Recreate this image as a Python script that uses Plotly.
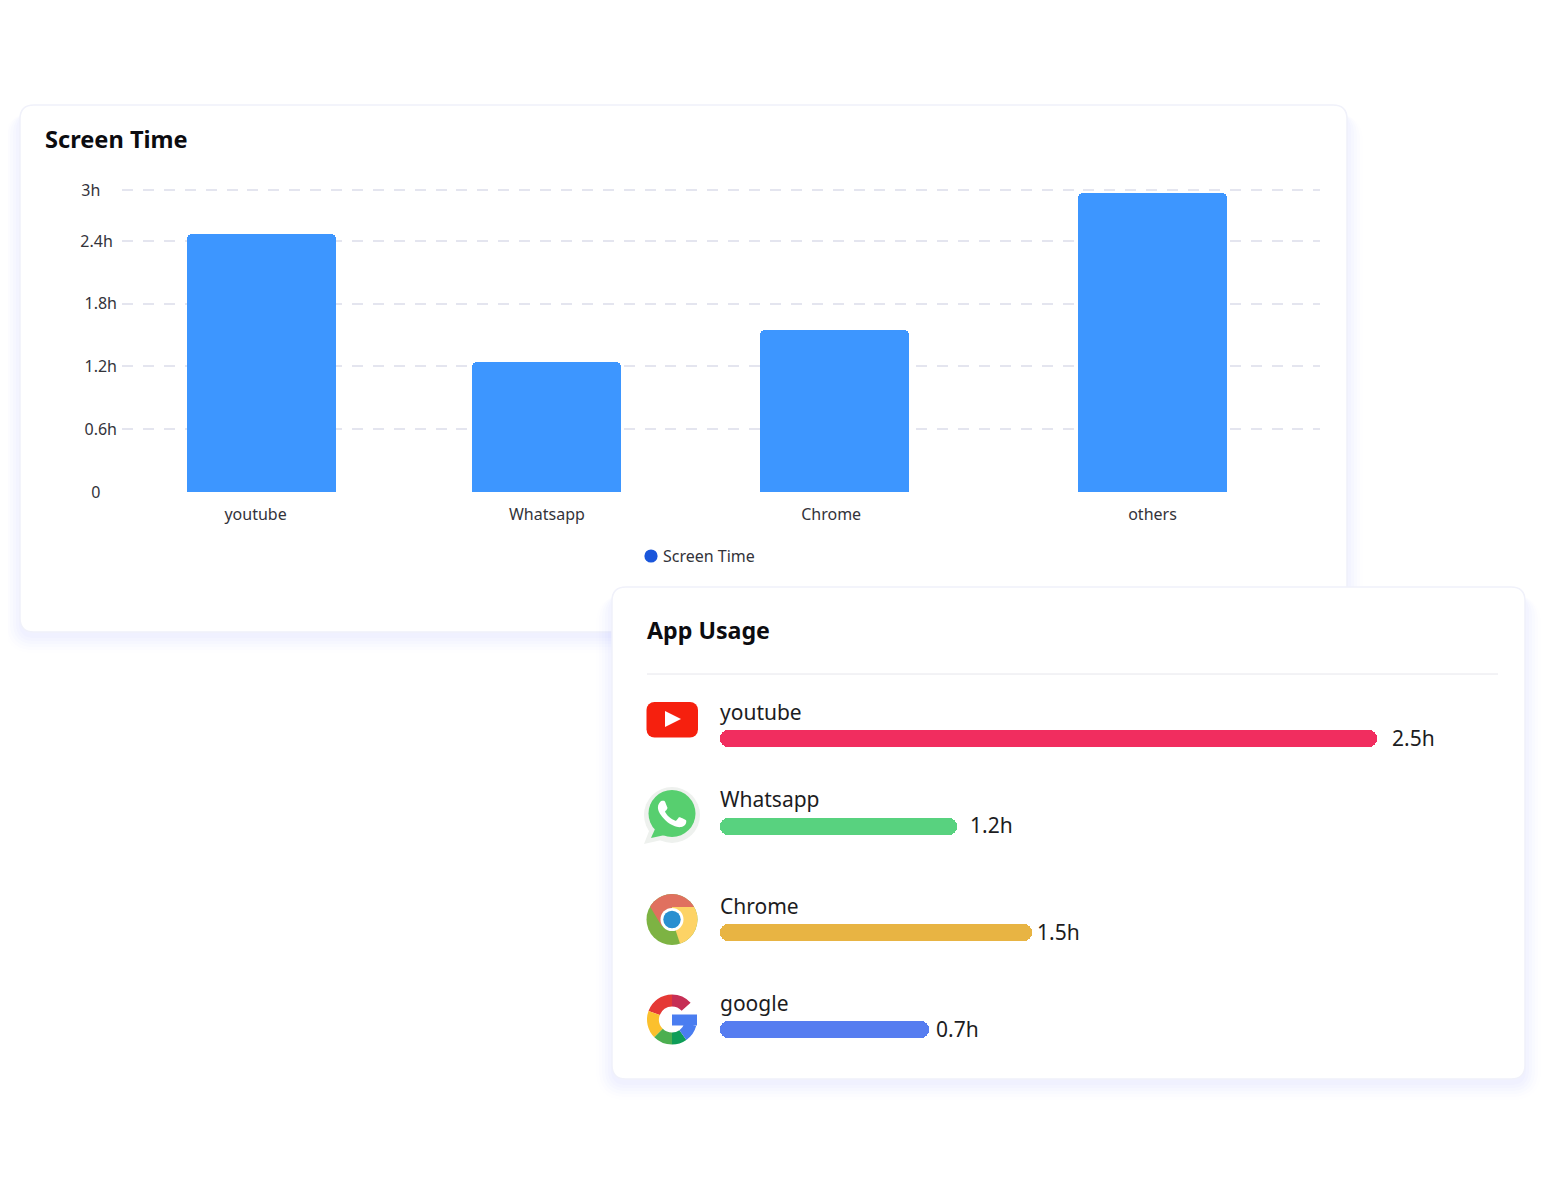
import base64, math
import plotly.graph_objects as go

# ---------- data ----------
apps_chart = ["youtube", "Whatsapp", "Chrome", "others"]
hours_chart = [2.47, 1.24, 1.55, 2.86]
slot_chart = [0.0, 0.9596, 1.9293, 3.0]
label_slot_chart = [-0.02, 0.961, 1.918, 3.0]
y_ticks = [0, 0.6, 1.2, 1.8, 2.4, 2.887]
y_labels = ["0", "0.6h", "1.2h", "1.8h", "2.4h", "3h"]

apps_usage = ["youtube", "Whatsapp", "Chrome", "google"]
usage_labels = ["2.5h", "1.2h", "1.5h", "0.7h"]
usage_length = [100.0, 36.0, 47.5, 31.8]
usage_rows = [0.0, 0.902, 2.0, 3.0]
usage_colors = ["#f12d5f", "#58d27f", "#e8b443", "#567df0"]
label_gap = [13, 11, 3, 5]

PAGE = 8                 # the browser's default body margin
W, H = 1550 - 2 * PAGE, 1200 - 2 * PAGE
FONT = "Noto Sans"
INK = "#33333a"
LEGEND_DOT = "#1a56db"

def px(x): return (x - PAGE) / W
def py(y): return 1 - (y - PAGE) / H

def rrect(x0, y0, x1, y1, r):
    X0, X1, Y0, Y1 = px(x0), px(x1), py(y0), py(y1)
    rx, ry = r / W, r / H
    return (f"M {X0+rx} {Y0} L {X1-rx} {Y0} Q {X1} {Y0} {X1} {Y0-ry} "
            f"L {X1} {Y1+ry} Q {X1} {Y1} {X1-rx} {Y1} L {X0+rx} {Y1} "
            f"Q {X0} {Y1} {X0} {Y1+ry} L {X0} {Y0-ry} Q {X0} {Y0} {X0+rx} {Y0} Z")

def card(x0, y0, x1, y1):
    out = []
    for grow, op in [(16, 0.008), (13, 0.012), (10, 0.016), (7, 0.02), (4, 0.02), (1, 0.02)]:
        out.append(dict(type="path", xref="paper", yref="paper", layer="below",
                        path=rrect(x0 - grow, y0 + 8, x1 + grow, y1 + grow + 5, 14 + grow),
                        fillcolor=f"rgba(90,110,235,{op})", line=dict(width=0)))
    out.append(dict(type="path", xref="paper", yref="paper", layer="below",
                    path=rrect(x0, y0, x1, y1, 14), fillcolor="white",
                    line=dict(color="#f0f1fa", width=1.5)))
    return out

shapes = card(20, 105, 1347, 632) + card(612, 587, 1525, 1079)
shapes.append(dict(type="line", xref="paper", yref="paper", layer="below",
                   x0=px(647), x1=px(1498), y0=py(674), y1=py(674),
                   line=dict(color="#e6e6ec", width=1)))
# the legend's swatch sits closer to its label in the reference than plotly's legend allows
shapes.append(dict(type="circle", xref="paper", yref="paper", layer="above",
                   x0=px(644.4), x1=px(657.6), y0=py(562.6), y1=py(549.4),
                   fillcolor=LEGEND_DOT, line=dict(width=0)))

# ---------- icons ----------
def pt(cx, cy, r, deg):
    a = math.radians(deg)
    return cx + r * math.cos(a), cy + r * math.sin(a)

def arc(cx, cy, r, a0, a1, color, sw):
    x0, y0 = pt(cx, cy, r, a0)
    x1, y1 = pt(cx, cy, r, a1)
    large = 1 if abs(a1 - a0) > 180 else 0
    return (f'<path d="M{x0:.2f} {y0:.2f} A{r} {r} 0 {large} 1 {x1:.2f} {y1:.2f}" '
            f'fill="none" stroke="{color}" stroke-width="{sw}"/>')

def svg(body):
    s = f'<svg xmlns="http://www.w3.org/2000/svg" viewBox="0 0 60 60" width="60" height="60">{body}</svg>'
    return "data:image/svg+xml;base64," + base64.b64encode(s.encode()).decode()

youtube_icon = svg('<rect x="4.5" y="12" width="51.5" height="35.5" rx="8" fill="#f6200e"/>'
                   '<path d="M23 21 L23 37 L39 29 Z" fill="#fff"/>')

phone = ("M17.472 14.382c-.297-.149-1.758-.867-2.03-.967-.273-.099-.471-.148-.67.15-.197.297-.767.966-.94 1.164"
         "-.173.199-.347.223-.644.075-.297-.15-1.255-.463-2.39-1.475-.883-.788-1.48-1.761-1.653-2.059"
         "-.173-.297-.018-.458.13-.606.134-.133.298-.347.446-.52.149-.174.198-.298.298-.497.099-.198.05-.371-.025-.52"
         "-.075-.149-.669-1.612-.916-2.207-.242-.579-.487-.5-.669-.51-.173-.008-.371-.01-.57-.01-.198 0-.52.074-.792.372"
         "-.272.297-1.04 1.016-1.04 2.479 0 1.462 1.065 2.875 1.213 3.074.149.198 2.096 3.2 5.077 4.487"
         ".709.306 1.262.489 1.694.625.712.227 1.36.195 1.871.118.571-.085 1.758-.719 2.006-1.413"
         ".248-.694.248-1.289.173-1.413-.074-.124-.272-.198-.57-.347z")
whatsapp_icon = svg('<circle cx="30" cy="29" r="28" fill="#eef1ee"/>'
                    '<path d="M9 40 L2 58 L24 53 Z" fill="#eef1ee"/>'
                    '<path d="M13 43 L9 52 L23 49 Z" fill="#57cf6f"/>'
                    '<circle cx="30" cy="27.5" r="23.5" fill="#57cf6f"/>'
                    f'<g transform="translate(30 28) scale(2.35) translate(-12 -12)"><path d="{phone}" fill="#fff"/></g>')

chrome_icon = svg(
    '<clipPath id="c"><circle cx="30" cy="30" r="25.5"/></clipPath>'
    '<g clip-path="url(#c)">'
    '<rect width="60" height="60" fill="#7db343"/>'
    '<path d="M30 30 L40 60 L60 60 L60 17.5 L30 17.5 Z" fill="#fdd365"/>'
    '<path d="M20 37 L2 7 L2 0 L60 0 L60 17.5 L30 17.5 Z" fill="#e0705f"/>'
    '</g><circle cx="30" cy="30" r="11.5" fill="#fff"/><circle cx="30" cy="30" r="8.7" fill="#2a8fd0"/>')

gr, gs = 19, 12
google_icon = svg(
    '<path d="M30 25 L55 25 L55 36 L30 36 Z" fill="#4a7df0"/>' +
    arc(30, 30, gr, 200, 270, "#e53935", gs) +
    arc(30, 30, gr, 270, 318, "#c62f55", gs) +
    arc(30, 30, gr, 135, 200, "#fbc02d", gs) +
    arc(30, 30, gr, 55, 90, "#0f9d58", gs) +
    arc(30, 30, gr, 90, 135, "#4caf50", gs) +
    arc(30, 30, gr, 15, 55, "#4a7df0", gs))

icon_sources = [youtube_icon, whatsapp_icon, chrome_icon, google_icon]
icon_left = [642, 642, 642, 642]
icon_top = [690, 786, 889.5, 989.5]
images = [dict(source=s, xref="paper", yref="paper", x=px(l), y=py(t),
               sizex=60 / W, sizey=60 / H, sizing="stretch", xanchor="left", yanchor="top", layer="above")
          for s, l, t in zip(icon_sources, icon_left, icon_top)]

# ---------- traces ----------
fig = go.Figure()
fig.add_bar(x=slot_chart, y=hours_chart, width=0.5017, marker=dict(color="#3d96ff", cornerradius=5, line=dict(width=0)),
            showlegend=False, xaxis="x", yaxis="y")
fig.add_scatter(x=[None], y=[None], mode="markers", name="Screen Time",
                marker=dict(color="rgba(0,0,0,0)", size=13, symbol="circle"), xaxis="x", yaxis="y")
fig.add_bar(y=usage_rows, x=usage_length, base=[0] * len(usage_length), orientation="h", width=0.1753, showlegend=False,
            marker=dict(color=usage_colors, cornerradius=8, line=dict(width=0)), xaxis="x2", yaxis="y2")

# ---------- annotations ----------
ann = [
    dict(text="<b>Screen Time</b>", xref="paper", yref="paper", x=px(43), y=py(139), xanchor="left", yanchor="middle",
         showarrow=False, font=dict(family=FONT, size=23.6, color="#0c0c10")),
    dict(text="<b>App Usage</b>", xref="paper", yref="paper", x=px(645), y=py(630), xanchor="left", yanchor="middle",
         showarrow=False, font=dict(family=FONT, size=23.2, color="#0c0c10")),
]
for name, row, length, lab, gap in zip(apps_usage, usage_rows, usage_length, usage_labels, label_gap):
    ann.append(dict(text=name, xref="x2", yref="y2", x=0, y=row, xshift=-2, yshift=27, xanchor="left", yanchor="middle",
                    showarrow=False, font=dict(family=FONT, size=21, color="#1c1c22")))
    ann.append(dict(text=lab, xref="x2", yref="y2", x=length, y=row, xshift=gap, yshift=1, xanchor="left", yanchor="middle",
                    showarrow=False, font=dict(family=FONT, size=21, color="#1c1c22")))

NB = "\u00a0"
padded = [y_labels[0] + NB * 4, y_labels[1], y_labels[2], y_labels[3], y_labels[4] + NB, y_labels[5] + NB * 4]

fig.update_layout(
    width=W, height=H, autosize=False, margin=dict(l=0, r=0, t=0, b=0, autoexpand=False),
    paper_bgcolor="white", plot_bgcolor="rgba(0,0,0,0)",
    barmode="overlay", bargap=0, shapes=shapes, images=images, annotations=ann,
    legend=dict(x=px(623), y=py(556), xanchor="left", yanchor="middle", bgcolor="rgba(0,0,0,0)",
                font=dict(family=FONT, size=16, color=INK), itemclick=False),
    xaxis=dict(domain=[px(122), px(1320)], range=[-0.4697, 3.564], tickmode="array",
               tickvals=label_slot_chart, ticktext=apps_chart, showgrid=False, zeroline=False, showline=False,
               ticks="", tickfont=dict(family=FONT, size=16, color=INK), anchor="y", ticklabelstandoff=11),
    yaxis=dict(domain=[py(492), py(180)], range=[0, 2.983], tickmode="array", tickvals=y_ticks, ticktext=padded,
               showgrid=True, gridcolor="#e4e5ef", gridwidth=1.5, griddash="11px,9.9px", zeroline=False, showline=False,
               ticks="", tickfont=dict(family=FONT, size=16, color=INK), anchor="x", ticklabelstandoff=4),
    xaxis2=dict(domain=[px(700), px(1500)], range=[-3.044, 118.72], visible=False, anchor="y2"),
    yaxis2=dict(domain=[py(1060), py(710)], range=[3.31, -0.294], visible=False, anchor="x2"),
)
fig.write_html("out.html")
